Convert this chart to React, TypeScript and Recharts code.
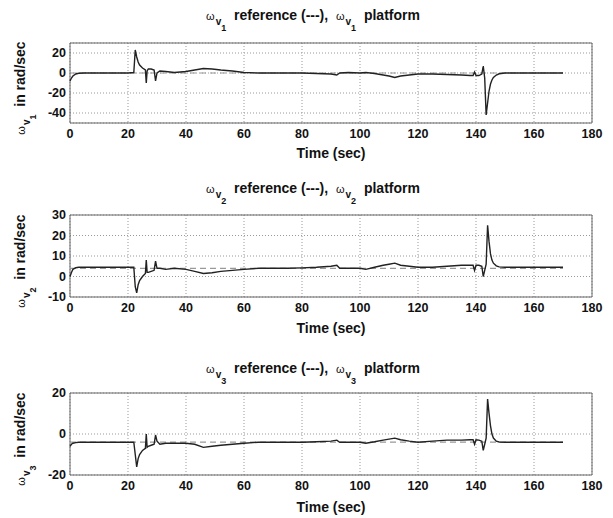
import React from 'react'
import {
  LineChart,
  Line,
  XAxis,
  YAxis,
  CartesianGrid,
  ReferenceArea,
} from 'recharts'

// time samples shared by the three platform traces (sec)
const time = [
  0, 0.5, 1, 2, 3, 5, 10, 20, 22, 22.5,
  23, 23.5, 24, 25, 26, 26.3, 26.6, 27, 28, 29,
  29.5, 30, 31, 33, 36, 40, 43, 46, 49, 52,
  56, 60, 65, 70, 75, 80, 85, 90, 92, 93,
  96, 100, 102, 105, 108, 110, 112, 114, 117, 120,
  125, 130, 135, 138, 139, 139.5, 140, 141, 142, 142.5,
  143, 143.5, 144, 144.5, 145, 145.5, 146, 147, 148, 150,
  160, 170,
]

const platform1 = [
  -8, -5, -3, -1, -0.3, 0, 0, 0, 0.5, 23,
  16, 11, 8, 5, 3, -10, 2, 4, 4, 3,
  -8, 0, 2, 1.5, 0.5, 1.5, 3, 4.5, 4, 3,
  2, 0.5, 0, 0, 0, 0, -0.5, -1, -2, 0,
  0.5, 0, 0.5, -0.5, -2, -3, -4.5, -3, -2, -1,
  -1, -1.5, -2, -2.5, -2.5, 1, -2.5, -2.5, -1, 7,
  -5, -42, -30, -18, -11, -7, -4.5, -2, -0.8, 0,
  0, 0,
]

const platform2 = [
  0, 2, 3.5, 4.3, 4.5, 4.5, 4.5, 4.5, 4.5, -5,
  -8, -4, -2, 0, 1.5, 8, 2, 2, 2.5, 3,
  7.5, 4, 4, 3.5, 4, 3.5, 2.5, 1.5, 1.8, 2.5,
  3, 3.5, 4, 4, 4, 4.2, 4.5, 5, 5.5, 4,
  4, 4, 3.5, 4.5, 5.5, 6, 6.5, 5.5, 5, 4.5,
  4.5, 5, 5.5, 5.5, 5.5, 3, 5.5, 5.5, 5, 0,
  3, 6, 25, 17, 11, 8, 6.5, 5.2, 4.7, 4.5,
  4.5, 4.5,
]

const platform3 = [
  -6, -5, -4.5, -4.2, -4, -4, -4, -4, -4, -10,
  -16, -12, -10, -8, -7, 0, -6.5, -6, -5.5, -5,
  -0.5, -3.5, -5, -4.5, -4.5, -4.5, -5, -6.5, -6, -5.5,
  -5, -4.5, -4, -4, -4, -4, -3.8, -3.5, -3, -4,
  -4, -4, -4.5, -3.8, -3, -2.5, -2, -2.8, -3.5, -4,
  -3.5, -3, -3, -2.8, -2.8, -5, -2.8, -3, -3.5, -8,
  -5, -2, 17, 10, 4, 0, -2, -3.5, -3.9, -4,
  -4, -4,
]

// reference commands (dashed)
const refTime = [0, 170]
const reference1 = [0, 0]
const reference2 = [4, 4]
const reference3 = [-4, -4]

const xTicks = [0, 20, 40, 60, 80, 100, 120, 140, 160, 180]

const FONT = '"Liberation Sans", Arial, sans-serif'
const TOP = 10

const rows = time.map((t, i) => ({
  t,
  p1: platform1[i],
  p2: platform2[i],
  p3: platform3[i],
}))

function Omega({ n }: { n: number }) {
  return (
    <span style={{ fontWeight: 'normal', fontSize: 11 }}>
      ω
      <span style={{ fontSize: 10, fontWeight: 'bold', position: 'relative', top: 5, marginLeft: 1 }}>
        v
        <span style={{ fontSize: 9, position: 'relative', top: 6 }}>{n}</span>
      </span>
    </span>
  )
}

type PanelProps = {
  n: number
  dataKey: string
  refValues: number[]
  domain: [number, number]
  yTicks: number[]
  plotTop: number
  plotHeight: number
  titleY: number
  timeY: number
}

function Panel({ n, dataKey, refValues, domain, yTicks, plotTop, plotHeight, titleY, timeY }: PanelProps) {
  const refData = refTime.map((t, i) => ({ t, ref: refValues[i] }))
  const tickStyle = { fontSize: 12.5, fontWeight: 'bold' as const, fill: '#111', fontFamily: FONT }
  return (
    <>
      <div
        style={{
          position: 'absolute',
          left: 313,
          top: titleY - 8,
          transform: 'translateX(-50%)',
          whiteSpace: 'pre',
          fontSize: 14,
          lineHeight: '16px',
          fontWeight: 'bold',
          fontFamily: FONT,
          color: '#111',
        }}
      >
        <Omega n={n} />
        {'  reference (---),  '}
        <Omega n={n} />
        {'  platform'}
      </div>
      <div style={{ position: 'absolute', left: 0, top: plotTop - TOP }}>
        <LineChart
          width={613}
          height={plotHeight + TOP + 30}
          data={rows}
          margin={{ top: TOP, right: 21, left: 0, bottom: 0 }}
        >
          <CartesianGrid stroke="#999" strokeDasharray="1 2" />
          <XAxis
            dataKey="t"
            type="number"
            domain={[0, 180]}
            ticks={xTicks}
            interval={0}
            height={30}
            axisLine={false}
            tickLine={false}
            tickSize={3}
            tickMargin={3}
            tick={tickStyle}
          />
          <YAxis
            type="number"
            domain={domain}
            ticks={yTicks}
            interval={0}
            width={70}
            axisLine={false}
            tickLine={false}
            tickSize={2}
            tickMargin={2}
            tick={tickStyle}
          />
          <ReferenceArea
            x1={0}
            x2={180}
            y1={domain[0]}
            y2={domain[1]}
            fill="none"
            stroke="#666"
            strokeWidth={1}
          />
          <Line
            data={refData}
            dataKey="ref"
            type="linear"
            stroke="#999"
            strokeWidth={1.2}
            strokeDasharray="6 4"
            dot={false}
            isAnimationActive={false}
          />
          <Line
            dataKey={dataKey}
            type="linear"
            stroke="#222"
            strokeWidth={1.4}
            dot={false}
            isAnimationActive={false}
          />
        </LineChart>
      </div>
      <div
        style={{
          position: 'absolute',
          left: 331,
          top: timeY - 8,
          transform: 'translateX(-50%)',
          whiteSpace: 'nowrap',
          fontSize: 14,
          lineHeight: '16px',
          fontWeight: 'bold',
          fontFamily: FONT,
          color: '#111',
        }}
      >
        Time (sec)
      </div>
      <div style={{ position: 'absolute', left: 21, top: plotTop + plotHeight / 2 + 5, width: 0, height: 0 }}>
        <div
          style={{
            position: 'absolute',
            left: 0,
            top: 0,
            transform: 'translate(-50%, -50%) rotate(-90deg)',
            whiteSpace: 'pre',
            fontSize: 14,
            lineHeight: '16px',
            fontWeight: 'bold',
            fontFamily: FONT,
            color: '#111',
          }}
        >
          <Omega n={n} />
          {'  in rad/sec'}
        </div>
      </div>
    </>
  )
}

export default function App() {
  return (
    <div style={{ position: 'absolute', left: 0, top: 0, width: 613, height: 518, background: '#fff' }}>
      <Panel
        n={1}
        dataKey="p1"
        refValues={reference1}
        domain={[-50, 30]}
        yTicks={[-40, -20, 0, 20]}
        plotTop={43}
        plotHeight={80}
        titleY={15}
        timeY={153}
      />
      <Panel
        n={2}
        dataKey="p2"
        refValues={reference2}
        domain={[-10, 30]}
        yTicks={[-10, 0, 10, 20, 30]}
        plotTop={215}
        plotHeight={82}
        titleY={188}
        timeY={328}
      />
      <Panel
        n={3}
        dataKey="p3"
        refValues={reference3}
        domain={[-20, 20]}
        yTicks={[-20, 0, 20]}
        plotTop={393}
        plotHeight={82}
        titleY={368}
        timeY={507}
      />
    </div>
  )
}
